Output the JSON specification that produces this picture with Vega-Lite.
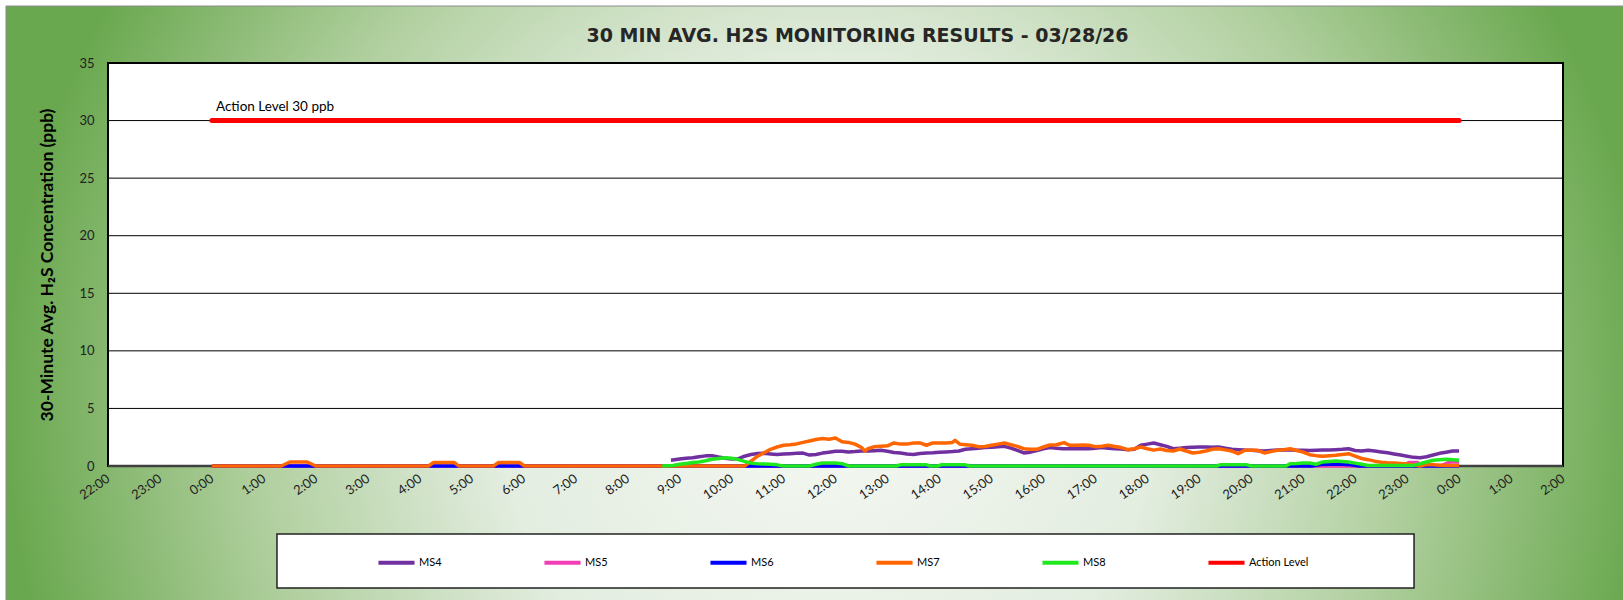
{
  "$schema": "https://vega.github.io/schema/vega-lite/v6.json",
  "autosize": "none",
  "width": 1455,
  "height": 403,
  "padding": {"left": 108, "top": 63, "right": 60, "bottom": 134},
  "background": "white",
  "title": {
    "text": "30 MIN AVG. H2S MONITORING RESULTS - 03/28/26",
    "font": "DejaVu Sans", "fontSize": 19, "fontWeight": "bold", "color": "#262626",
    "anchor": "middle", "frame": "group", "offset": -40, "dx": 22
  },
  "data": {"values": [{}]},
  "datasets": {
    "grid": [{"g": 5}, {"g": 10}, {"g": 15}, {"g": 20}, {"g": 25}, {"g": 30}, {"g": 35}],
    "MS4": [
      {"t":"2026-03-28T08:50","v":0.5},{"t":"2026-03-28T09:00","v":0.6},{"t":"2026-03-28T09:07:30","v":0.68},{"t":"2026-03-28T09:15","v":0.72},
      {"t":"2026-03-28T09:22:30","v":0.8},{"t":"2026-03-28T09:30","v":0.88},{"t":"2026-03-28T09:37:30","v":0.9},{"t":"2026-03-28T09:45","v":0.78},
      {"t":"2026-03-28T09:52:30","v":0.68},{"t":"2026-03-28T10:00","v":0.6},{"t":"2026-03-28T10:07:30","v":0.62},{"t":"2026-03-28T10:15","v":0.85},
      {"t":"2026-03-28T10:22:30","v":1.0},{"t":"2026-03-28T10:30","v":1.08},{"t":"2026-03-28T10:37:30","v":1.1},{"t":"2026-03-28T10:45","v":1.05},
      {"t":"2026-03-28T10:52:30","v":1.0},{"t":"2026-03-28T11:00","v":1.05},{"t":"2026-03-28T11:07:30","v":1.07},{"t":"2026-03-28T11:15","v":1.1},
      {"t":"2026-03-28T11:22:30","v":1.12},{"t":"2026-03-28T11:30","v":0.95},{"t":"2026-03-28T11:37:30","v":1.0},{"t":"2026-03-28T11:45","v":1.12},
      {"t":"2026-03-28T11:52:30","v":1.2},{"t":"2026-03-28T12:00","v":1.28},{"t":"2026-03-28T12:07:30","v":1.28},{"t":"2026-03-28T12:15","v":1.22},
      {"t":"2026-03-28T12:22:30","v":1.25},{"t":"2026-03-28T12:30","v":1.3},{"t":"2026-03-28T12:37:30","v":1.3},{"t":"2026-03-28T12:45","v":1.33},
      {"t":"2026-03-28T12:52:30","v":1.36},{"t":"2026-03-28T13:00","v":1.28},{"t":"2026-03-28T13:07:30","v":1.18},{"t":"2026-03-28T13:15","v":1.12},
      {"t":"2026-03-28T13:22:30","v":1.05},{"t":"2026-03-28T13:30","v":1.0},{"t":"2026-03-28T13:37:30","v":1.08},{"t":"2026-03-28T13:45","v":1.12},
      {"t":"2026-03-28T13:52:30","v":1.15},{"t":"2026-03-28T14:00","v":1.2},{"t":"2026-03-28T14:07:30","v":1.22},{"t":"2026-03-28T14:15","v":1.25},
      {"t":"2026-03-28T14:22:30","v":1.3},{"t":"2026-03-28T14:30","v":1.45},{"t":"2026-03-28T14:37:30","v":1.5},{"t":"2026-03-28T14:45","v":1.55},
      {"t":"2026-03-28T14:52:30","v":1.6},{"t":"2026-03-28T15:00","v":1.62},{"t":"2026-03-28T15:07:30","v":1.68},{"t":"2026-03-28T15:15","v":1.71},
      {"t":"2026-03-28T15:22:30","v":1.55},{"t":"2026-03-28T15:30","v":1.35},{"t":"2026-03-28T15:37:30","v":1.13},{"t":"2026-03-28T15:45","v":1.2},
      {"t":"2026-03-28T15:52:30","v":1.35},{"t":"2026-03-28T16:00","v":1.5},{"t":"2026-03-28T16:07:30","v":1.6},{"t":"2026-03-28T16:15","v":1.55},
      {"t":"2026-03-28T16:22:30","v":1.5},{"t":"2026-03-28T16:30","v":1.5},{"t":"2026-03-28T16:37:30","v":1.5},{"t":"2026-03-28T16:45","v":1.52},
      {"t":"2026-03-28T16:52:30","v":1.5},{"t":"2026-03-28T17:00","v":1.55},{"t":"2026-03-28T17:07:30","v":1.6},{"t":"2026-03-28T17:15","v":1.55},
      {"t":"2026-03-28T17:22:30","v":1.5},{"t":"2026-03-28T17:30","v":1.48},{"t":"2026-03-28T17:37:30","v":1.42},{"t":"2026-03-28T17:45","v":1.45},
      {"t":"2026-03-28T17:52:30","v":1.8},{"t":"2026-03-28T18:00","v":1.9},{"t":"2026-03-28T18:07:30","v":2.0},{"t":"2026-03-28T18:15","v":1.85},
      {"t":"2026-03-28T18:22:30","v":1.7},{"t":"2026-03-28T18:30","v":1.5},{"t":"2026-03-28T18:37:30","v":1.55},{"t":"2026-03-28T18:45","v":1.6},
      {"t":"2026-03-28T18:52:30","v":1.62},{"t":"2026-03-28T19:00","v":1.65},{"t":"2026-03-28T19:07:30","v":1.65},{"t":"2026-03-28T19:15","v":1.62},
      {"t":"2026-03-28T19:22:30","v":1.65},{"t":"2026-03-28T19:30","v":1.55},{"t":"2026-03-28T19:37:30","v":1.45},{"t":"2026-03-28T19:45","v":1.42},
      {"t":"2026-03-28T19:52:30","v":1.38},{"t":"2026-03-28T20:00","v":1.36},{"t":"2026-03-28T20:07:30","v":1.33},{"t":"2026-03-28T20:15","v":1.3},
      {"t":"2026-03-28T20:22:30","v":1.35},{"t":"2026-03-28T20:30","v":1.4},{"t":"2026-03-28T20:37:30","v":1.42},{"t":"2026-03-28T20:45","v":1.38},
      {"t":"2026-03-28T20:52:30","v":1.36},{"t":"2026-03-28T21:00","v":1.36},{"t":"2026-03-28T21:07:30","v":1.35},{"t":"2026-03-28T21:15","v":1.36},
      {"t":"2026-03-28T21:22:30","v":1.38},{"t":"2026-03-28T21:30","v":1.4},{"t":"2026-03-28T21:37:30","v":1.42},{"t":"2026-03-28T21:45","v":1.45},
      {"t":"2026-03-28T21:52:30","v":1.5},{"t":"2026-03-28T22:00","v":1.35},{"t":"2026-03-28T22:07:30","v":1.3},{"t":"2026-03-28T22:15","v":1.36},
      {"t":"2026-03-28T22:22:30","v":1.3},{"t":"2026-03-28T22:30","v":1.22},{"t":"2026-03-28T22:37:30","v":1.15},{"t":"2026-03-28T22:45","v":1.05},
      {"t":"2026-03-28T22:52:30","v":0.95},{"t":"2026-03-28T23:00","v":0.85},{"t":"2026-03-28T23:07:30","v":0.75},{"t":"2026-03-28T23:15","v":0.72},
      {"t":"2026-03-28T23:22:30","v":0.8},{"t":"2026-03-28T23:30","v":0.95},{"t":"2026-03-28T23:37:30","v":1.1},{"t":"2026-03-28T23:45","v":1.2},
      {"t":"2026-03-28T23:52:30","v":1.3},{"t":"2026-03-29T00:00","v":1.3}
    ],
    "MS5": [
      {"t":"2026-03-28T00:00","v":0},{"t":"2026-03-28T22:55","v":0},{"t":"2026-03-28T23:02","v":0.3},{"t":"2026-03-28T23:12","v":0.3},
      {"t":"2026-03-28T23:18","v":0.05},{"t":"2026-03-28T23:40","v":0.05},{"t":"2026-03-28T23:50","v":0.35},{"t":"2026-03-29T00:00","v":0.35}
    ],
    "MS6": [
      {"t":"2026-03-28T00:00","v":0},{"t":"2026-03-28T21:10","v":0},{"t":"2026-03-28T21:20","v":0.12},{"t":"2026-03-28T21:40","v":0.18},
      {"t":"2026-03-28T21:55","v":0.1},{"t":"2026-03-28T22:05","v":0},{"t":"2026-03-29T00:00","v":0}
    ],
    "MS7": [
      {"t":"2026-03-28T00:00","v":0},{"t":"2026-03-28T01:20","v":0},{"t":"2026-03-28T01:30","v":0.35},{"t":"2026-03-28T01:50","v":0.35},
      {"t":"2026-03-28T02:00","v":0},{"t":"2026-03-28T04:10","v":0},{"t":"2026-03-28T04:16","v":0.3},{"t":"2026-03-28T04:40","v":0.3},
      {"t":"2026-03-28T04:45","v":0},{"t":"2026-03-28T05:25","v":0},{"t":"2026-03-28T05:31","v":0.3},{"t":"2026-03-28T05:55","v":0.3},
      {"t":"2026-03-28T06:01","v":0},{"t":"2026-03-28T10:15","v":0},{"t":"2026-03-28T10:22:30","v":0.43},{"t":"2026-03-28T10:30","v":0.85},
      {"t":"2026-03-28T10:37:30","v":1.15},{"t":"2026-03-28T10:45","v":1.45},{"t":"2026-03-28T10:52:30","v":1.65},{"t":"2026-03-28T11:00","v":1.8},
      {"t":"2026-03-28T11:07:30","v":1.85},{"t":"2026-03-28T11:15","v":1.92},{"t":"2026-03-28T11:22:30","v":2.05},{"t":"2026-03-28T11:30","v":2.17},
      {"t":"2026-03-28T11:37:30","v":2.3},{"t":"2026-03-28T11:45","v":2.38},{"t":"2026-03-28T11:52:30","v":2.33},{"t":"2026-03-28T12:00","v":2.43},
      {"t":"2026-03-28T12:07:30","v":2.1},{"t":"2026-03-28T12:15","v":2.05},{"t":"2026-03-28T12:22:30","v":1.9},{"t":"2026-03-28T12:30","v":1.6},
      {"t":"2026-03-28T12:34","v":1.3},{"t":"2026-03-28T12:37:30","v":1.5},{"t":"2026-03-28T12:45","v":1.68},{"t":"2026-03-28T12:52:30","v":1.72},
      {"t":"2026-03-28T13:00","v":1.75},{"t":"2026-03-28T13:07:30","v":2.0},{"t":"2026-03-28T13:15","v":1.9},{"t":"2026-03-28T13:22:30","v":1.9},
      {"t":"2026-03-28T13:30","v":2.0},{"t":"2026-03-28T13:37:30","v":2.0},{"t":"2026-03-28T13:45","v":1.8},{"t":"2026-03-28T13:52:30","v":2.0},
      {"t":"2026-03-28T14:00","v":2.0},{"t":"2026-03-28T14:07:30","v":2.0},{"t":"2026-03-28T14:15","v":2.05},{"t":"2026-03-28T14:18","v":2.23},
      {"t":"2026-03-28T14:24","v":1.88},{"t":"2026-03-28T14:30","v":1.85},{"t":"2026-03-28T14:37:30","v":1.8},{"t":"2026-03-28T14:45","v":1.68},
      {"t":"2026-03-28T14:52:30","v":1.7},{"t":"2026-03-28T15:00","v":1.8},{"t":"2026-03-28T15:07:30","v":1.9},{"t":"2026-03-28T15:15","v":2.0},
      {"t":"2026-03-28T15:22:30","v":1.85},{"t":"2026-03-28T15:30","v":1.7},{"t":"2026-03-28T15:37:30","v":1.5},{"t":"2026-03-28T15:45","v":1.45},
      {"t":"2026-03-28T15:52:30","v":1.45},{"t":"2026-03-28T16:00","v":1.65},{"t":"2026-03-28T16:07:30","v":1.82},{"t":"2026-03-28T16:15","v":1.85},
      {"t":"2026-03-28T16:24","v":2.03},{"t":"2026-03-28T16:30","v":1.8},{"t":"2026-03-28T16:37:30","v":1.8},{"t":"2026-03-28T16:45","v":1.82},
      {"t":"2026-03-28T16:52:30","v":1.8},{"t":"2026-03-28T17:00","v":1.68},{"t":"2026-03-28T17:07:30","v":1.72},{"t":"2026-03-28T17:15","v":1.8},
      {"t":"2026-03-28T17:22:30","v":1.7},{"t":"2026-03-28T17:30","v":1.6},{"t":"2026-03-28T17:37:30","v":1.42},{"t":"2026-03-28T17:45","v":1.5},
      {"t":"2026-03-28T17:52:30","v":1.65},{"t":"2026-03-28T18:00","v":1.5},{"t":"2026-03-28T18:07:30","v":1.38},{"t":"2026-03-28T18:15","v":1.48},
      {"t":"2026-03-28T18:22:30","v":1.35},{"t":"2026-03-28T18:30","v":1.3},{"t":"2026-03-28T18:37:30","v":1.48},{"t":"2026-03-28T18:45","v":1.3},
      {"t":"2026-03-28T18:52:30","v":1.13},{"t":"2026-03-28T19:00","v":1.2},{"t":"2026-03-28T19:07:30","v":1.3},{"t":"2026-03-28T19:15","v":1.45},
      {"t":"2026-03-28T19:22:30","v":1.5},{"t":"2026-03-28T19:30","v":1.4},{"t":"2026-03-28T19:37:30","v":1.3},{"t":"2026-03-28T19:45","v":1.07},
      {"t":"2026-03-28T19:52:30","v":1.36},{"t":"2026-03-28T20:00","v":1.36},{"t":"2026-03-28T20:07:30","v":1.36},{"t":"2026-03-28T20:15","v":1.13},
      {"t":"2026-03-28T20:22:30","v":1.25},{"t":"2026-03-28T20:30","v":1.36},{"t":"2026-03-28T20:37:30","v":1.42},{"t":"2026-03-28T20:45","v":1.5},
      {"t":"2026-03-28T20:52:30","v":1.35},{"t":"2026-03-28T21:00","v":1.2},{"t":"2026-03-28T21:07:30","v":0.98},{"t":"2026-03-28T21:15","v":0.9},
      {"t":"2026-03-28T21:22:30","v":0.84},{"t":"2026-03-28T21:30","v":0.88},{"t":"2026-03-28T21:37:30","v":0.93},{"t":"2026-03-28T21:45","v":1.0},
      {"t":"2026-03-28T21:52:30","v":1.07},{"t":"2026-03-28T22:00","v":0.85},{"t":"2026-03-28T22:07:30","v":0.65},{"t":"2026-03-28T22:15","v":0.55},
      {"t":"2026-03-28T22:22:30","v":0.42},{"t":"2026-03-28T22:30","v":0.33},{"t":"2026-03-28T22:37:30","v":0.28},{"t":"2026-03-28T22:45","v":0.25},
      {"t":"2026-03-28T22:52:30","v":0.22},{"t":"2026-03-28T23:00","v":0.18},{"t":"2026-03-28T23:07:30","v":0.1},{"t":"2026-03-28T23:15","v":0},
      {"t":"2026-03-28T23:22:30","v":0.12},{"t":"2026-03-28T23:30","v":0.1},{"t":"2026-03-28T23:37:30","v":0.07},{"t":"2026-03-28T23:45","v":0.05},
      {"t":"2026-03-28T23:52:30","v":0.05},{"t":"2026-03-29T00:00","v":0.05}
    ],
    "MS8": [
      {"t":"2026-03-28T08:40","v":0},{"t":"2026-03-28T08:52:30","v":0.05},{"t":"2026-03-28T09:00","v":0.15},{"t":"2026-03-28T09:07:30","v":0.22},
      {"t":"2026-03-28T09:15","v":0.3},{"t":"2026-03-28T09:22:30","v":0.35},{"t":"2026-03-28T09:30","v":0.45},{"t":"2026-03-28T09:37:30","v":0.58},
      {"t":"2026-03-28T09:45","v":0.65},{"t":"2026-03-28T09:52:30","v":0.72},{"t":"2026-03-28T10:00","v":0.68},{"t":"2026-03-28T10:07:30","v":0.55},
      {"t":"2026-03-28T10:15","v":0.4},{"t":"2026-03-28T10:22:30","v":0.25},{"t":"2026-03-28T10:30","v":0.2},{"t":"2026-03-28T10:37:30","v":0.18},
      {"t":"2026-03-28T10:45","v":0.15},{"t":"2026-03-28T10:52:30","v":0.1},{"t":"2026-03-28T11:00","v":0},{"t":"2026-03-28T11:30","v":0},
      {"t":"2026-03-28T11:37:30","v":0.15},{"t":"2026-03-28T11:45","v":0.26},{"t":"2026-03-28T12:00","v":0.26},{"t":"2026-03-28T12:07:30","v":0.2},
      {"t":"2026-03-28T12:15","v":0},{"t":"2026-03-28T13:10","v":0},{"t":"2026-03-28T13:15","v":0.1},{"t":"2026-03-28T13:45","v":0.1},
      {"t":"2026-03-28T13:50","v":0},{"t":"2026-03-28T13:58","v":0},{"t":"2026-03-28T14:02","v":0.1},{"t":"2026-03-28T14:30","v":0.1},
      {"t":"2026-03-28T14:35","v":0},{"t":"2026-03-28T19:20","v":0},{"t":"2026-03-28T19:24","v":0.1},{"t":"2026-03-28T19:55","v":0.1},
      {"t":"2026-03-28T20:00","v":0},{"t":"2026-03-28T20:40","v":0},{"t":"2026-03-28T20:45","v":0.2},{"t":"2026-03-28T20:52:30","v":0.22},
      {"t":"2026-03-28T21:00","v":0.26},{"t":"2026-03-28T21:07:30","v":0.26},{"t":"2026-03-28T21:15","v":0.15},{"t":"2026-03-28T21:22:30","v":0.35},
      {"t":"2026-03-28T21:30","v":0.4},{"t":"2026-03-28T21:37:30","v":0.43},{"t":"2026-03-28T21:45","v":0.4},{"t":"2026-03-28T21:52:30","v":0.35},
      {"t":"2026-03-28T22:00","v":0.25},{"t":"2026-03-28T22:07:30","v":0.15},{"t":"2026-03-28T22:15","v":0.05},{"t":"2026-03-28T23:07:30","v":0.05},
      {"t":"2026-03-28T23:15","v":0.2},{"t":"2026-03-28T23:22:30","v":0.35},{"t":"2026-03-28T23:30","v":0.5},{"t":"2026-03-28T23:37:30","v":0.55},
      {"t":"2026-03-28T23:45","v":0.58},{"t":"2026-03-28T23:52:30","v":0.55},{"t":"2026-03-29T00:00","v":0.5}
    ],
    "action": [{"t":"2026-03-28T00:00","v":30},{"t":"2026-03-29T00:00","v":30}]
  },
  "layer": [
    {
      "mark": {
        "type": "rect",
        "stroke": "#8c8c8c", "strokeWidth": 1,
        "fill": {
          "gradient": "radial", "x1": 0.5, "y1": 0.24, "r1": 0, "x2": 0.5, "y2": 0.24, "r2": 0.5,
          "stops": [
            {"offset": 0, "color": "#f5f8f3"},
            {"offset": 0.4, "color": "#e3ede0"},
            {"offset": 0.7, "color": "#b0cf9e"},
            {"offset": 1, "color": "#6aa84f"}
          ]
        }
      },
      "encoding": {
        "x": {
          "datum": {"year": 2026, "month": 3, "date": 27, "hours": 20, "minutes": 2, "seconds": 13},
          "type": "temporal",
          "scale": {
            "domain": [{"year": 2026, "month": 3, "date": 27, "hours": 22}, {"year": 2026, "month": 3, "date": 29, "hours": 2}],
            "nice": false
          }
        },
        "x2": {"datum": {"year": 2026, "month": 3, "date": 29, "hours": 3, "minutes": 40, "seconds": 26}},
        "y": {
          "datum": 39.95, "type": "quantitative",
          "scale": {"domain": [0, 35], "nice": false, "zero": false}
        },
        "y2": {"datum": -102.8}
      }
    },
    {
      "mark": {"type": "rect", "fill": "white", "stroke": "#222222", "strokeWidth": 1.5},
      "encoding": {
        "x": {"datum": {"year": 2026, "month": 3, "date": 28, "hours": 1, "minutes": 15, "seconds": 7}, "type": "temporal"},
        "x2": {"datum": {"year": 2026, "month": 3, "date": 28, "hours": 23, "minutes": 8}},
        "y": {"datum": -5.906, "type": "quantitative"},
        "y2": {"datum": -10.596}
      }
    },
    {
      "mark": {"type": "rect", "fill": "white", "stroke": "#000000", "strokeWidth": 2},
      "encoding": {
        "x": {"datum": {"year": 2026, "month": 3, "date": 27, "hours": 22}, "type": "temporal"},
        "x2": {"datum": {"year": 2026, "month": 3, "date": 29, "hours": 2}},
        "y": {"datum": 0, "type": "quantitative"},
        "y2": {"datum": 35}
      }
    },
    {
      "data": {"name": "grid"},
      "mark": {"type": "rule", "color": "#000000", "strokeWidth": 1},
      "encoding": {"y": {"field": "g", "type": "quantitative"}}
    },
    {
      "mark": {"type": "rule", "color": "#404040", "strokeWidth": 2.5},
      "encoding": {"y": {"datum": 0, "type": "quantitative"}}
    },
    {
      "data": {"name": "MS4"},
      "mark": {"type": "line", "strokeWidth": 3.5, "strokeJoin": "round"},
      "encoding": {
        "x": {
          "field": "t", "type": "temporal",
          "axis": {
            "title": null, "zindex": 1, "domain": false, "ticks": false, "grid": false,
            "format": "%-H:%M", "tickCount": 29,
            "labelAngle": -35, "labelAlign": "right", "labelBaseline": "middle",
            "labelPadding": 11, "labelFont": "Lato", "labelFontSize": 13, "labelColor": "#222222"
          }
        },
        "y": {
          "field": "v", "type": "quantitative",
          "axis": {
            "title": "30-Minute Avg. H₂S Concentration (ppb)",
            "titleFont": "Lato", "titleFontSize": 17.5, "titleFontWeight": "bold", "titleColor": "#000000",
            "titlePadding": 22, "zindex": 1, "domain": false, "ticks": false, "grid": false,
            "values": [0, 5, 10, 15, 20, 25, 30, 35],
            "labelPadding": 14, "labelFont": "Lato", "labelFontSize": 13, "labelColor": "#222222"
          }
        },
        "color": {
          "datum": "MS4", "type": "nominal",
          "scale": {
            "domain": ["MS4", "MS5", "MS6", "MS7", "MS8", "Action Level"],
            "range": ["#7030a0", "#f23cb4", "#0000ff", "#ff6600", "#1fe81f", "#ff0000"]
          },
          "legend": {
            "title": null, "orient": "none", "legendX": 268, "legendY": 479,
            "direction": "horizontal", "columns": 6, "gridAlign": "all", "columnPadding": 57,
            "symbolType": "stroke", "symbolStrokeWidth": 4, "symbolSize": 1300,
            "labelFont": "Lato", "labelFontSize": 11, "labelColor": "#000000", "labelOffset": 2, "padding": 0
          }
        }
      }
    },
    {
      "data": {"name": "MS5"},
      "mark": {"type": "line", "strokeWidth": 3.5, "strokeJoin": "round"},
      "encoding": {
        "x": {"field": "t", "type": "temporal"},
        "y": {"field": "v", "type": "quantitative"},
        "color": {"datum": "MS5", "type": "nominal"}
      }
    },
    {
      "data": {"name": "MS6"},
      "mark": {"type": "line", "strokeWidth": 3.5, "strokeJoin": "round"},
      "encoding": {
        "x": {"field": "t", "type": "temporal"},
        "y": {"field": "v", "type": "quantitative"},
        "color": {"datum": "MS6", "type": "nominal"}
      }
    },
    {
      "data": {"name": "MS7"},
      "mark": {"type": "line", "strokeWidth": 3.5, "strokeJoin": "round"},
      "encoding": {
        "x": {"field": "t", "type": "temporal"},
        "y": {"field": "v", "type": "quantitative"},
        "color": {"datum": "MS7", "type": "nominal"}
      }
    },
    {
      "data": {"name": "MS8"},
      "mark": {"type": "line", "strokeWidth": 3.5, "strokeJoin": "round"},
      "encoding": {
        "x": {"field": "t", "type": "temporal"},
        "y": {"field": "v", "type": "quantitative"},
        "color": {"datum": "MS8", "type": "nominal"}
      }
    },
    {
      "data": {"name": "action"},
      "mark": {"type": "line", "strokeWidth": 5, "strokeCap": "round"},
      "encoding": {
        "x": {"field": "t", "type": "temporal"},
        "y": {"field": "v", "type": "quantitative"},
        "color": {"datum": "Action Level", "type": "nominal"}
      }
    },
    {
      "mark": {"type": "text", "text": "Action Level 30 ppb", "align": "left", "baseline": "middle", "dx": 4, "dy": -14, "font": "Lato", "fontSize": 13.5, "color": "#000000"},
      "encoding": {
        "x": {"datum": {"year": 2026, "month": 3, "date": 28}, "type": "temporal"},
        "y": {"datum": 30, "type": "quantitative"}
      }
    }
  ],
  "config": {
    "view": {"stroke": null},
    "line": {"clip": false},
    "axis": {
      "zindex": 1, "domain": false, "ticks": false, "grid": false,
      "labelFont": "Lato", "labelColor": "#222222"
    }
  }
}
